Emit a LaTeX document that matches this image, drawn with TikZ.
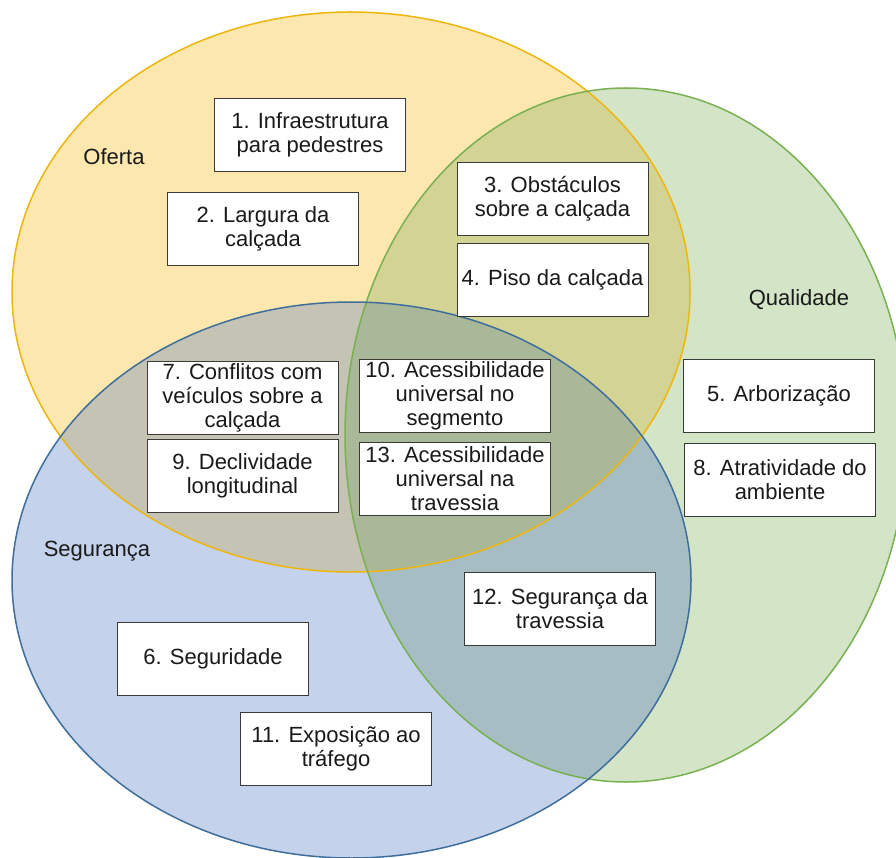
\documentclass[tikz,border=0pt]{standalone}
\usepackage{fontspec}
\setmainfont{Liberation Sans}
\definecolor{yfill}{HTML}{FCE7AF}
\definecolor{gfill}{HTML}{D4E4C7}
\definecolor{bfill}{HTML}{C4D2EB}
\definecolor{ygfill}{HTML}{D3D494}
\definecolor{ybfill}{HTML}{C5C3B3}
\definecolor{gbfill}{HTML}{A6BEC3}
\definecolor{ygbfill}{HTML}{A9B898}
\definecolor{ystroke}{HTML}{EEB60C}
\definecolor{gstroke}{HTML}{79B152}
\definecolor{bstroke}{HTML}{3F6E9C}
\definecolor{txt}{HTML}{1A1A1A}
\definecolor{boxline}{HTML}{3A3A3A}
\tikzset{
  itembox/.style={draw=boxline, line width=0.9pt, fill=white, minimum width=191pt, minimum height=73pt,
    inner sep=0pt, align=center, text=txt, font=\fontsize{22}{24}\selectfont},
  setlabel/.style={text=txt, font=\fontsize{22}{24}\selectfont, inner sep=0pt},
  ring/.style={line width=1.5pt}
}
\begin{document}
\begin{tikzpicture}[x=1pt,y=-1pt]
\useasboundingbox (0,0) rectangle (896,858);
\begin{scope}
\clip (0,0) rectangle (896,858);
\def\ellY{(351,292) ellipse [x radius=339, y radius=280]}
\def\ellG{(626,435) ellipse [x radius=281, y radius=347]}
\def\ellB{(351.5,580) ellipse [x radius=339.5, y radius=278]}
\fill[yfill] \ellY;
\fill[gfill] \ellG;
\fill[bfill] \ellB;
\begin{scope}\clip \ellY; \fill[ygfill] \ellG; \end{scope}
\begin{scope}\clip \ellY; \fill[ybfill] \ellB; \end{scope}
\begin{scope}\clip \ellG; \fill[gbfill] \ellB; \end{scope}
\begin{scope}\clip \ellY; \clip \ellG; \fill[ygbfill] \ellB; \end{scope}
\draw[ring, ystroke] \ellY;
\draw[ring, gstroke] \ellG;
\draw[ring, bstroke] \ellB;
\end{scope}

\node[setlabel] (oferta) at (114,157) {Oferta};
\node[setlabel] (qualidade) at (799,300) {Qualidade};
\node[setlabel] (seguranca) at (97,551) {Segurança};

\node[itembox] (n1) at (310,135) {1. Infraestrutura\\para pedestres};
\node[itembox] (n2) at (263,228.5) {2. Largura da\\calçada};
\node[itembox] (n3) at (552.5,198.5) {3. Obstáculos\\sobre a calçada};
\node[itembox] (n4) at (552.5,280) {4. Piso da calçada};
\node[itembox] (n5) at (779,396) {5. Arborização};
\node[itembox] (n8) at (780,479.5) {8. Atratividade do\\ambiente};
\node[itembox] (n7) at (242.5,397.5) {7. Conflitos com\\veículos sobre a\\calçada};
\node[itembox] (n9) at (242.5,475.5) {9. Declividade\\longitudinal};
\node[itembox] (n10) at (455,395.5) {10. Acessibilidade\\universal no\\segmento};
\node[itembox] (n13) at (455,479) {13. Acessibilidade\\universal na\\travessia};
\node[itembox] (n6) at (213,658.5) {6. Seguridade};
\node[itembox] (n11) at (336,749) {11. Exposição ao\\tráfego};
\node[itembox] (n12) at (560,609) {12. Segurança da\\travessia};
\end{tikzpicture}
\end{document}
